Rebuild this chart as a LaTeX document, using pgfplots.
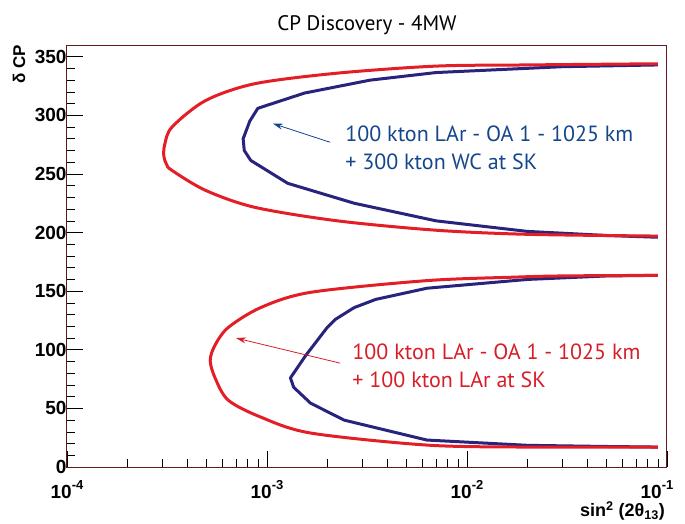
\documentclass[border=0pt]{standalone}
\usepackage{fontspec}
\setmainfont{Liberation Sans}
\newfontfamily\myriad{PT Sans}
\usepackage{pgfplots}
\pgfplotsset{compat=1.18}
\usetikzlibrary{arrows.meta}
\definecolor{rootred}{RGB}{228,30,38}
\definecolor{rootblue}{RGB}{40,35,125}
\definecolor{txtblue}{RGB}{20,70,140}
\definecolor{txtred}{RGB}{215,30,40}
\definecolor{framecol}{RGB}{100,25,35}
\newcommand{\dec}[1]{10\raisebox{0.45em}{\fontsize{13}{13}\selectfont #1}}
\begin{document}
\begin{tikzpicture}
\begin{axis}[
    scale only axis,
    width=600pt, height=422pt,
    xmode=log, xmin=1e-4, xmax=1e-1,
    ymin=0, ymax=360,
    clip mode=individual,
    axis line style={draw=framecol, line width=1pt},
    tick pos=left, tick align=inside,
    ytick={0,50,...,350}, minor y tick num=4,
    xtick={1e-4,1e-3,1e-2,1e-1},
    xticklabels={\dec{-4},\dec{-3},\dec{-2},\hspace*{-20pt}\dec{-1}},
    /pgf/number format/assume math mode=true,
    yticklabel style={font=\bfseries\fontsize{19}{19}\selectfont, xshift=3pt},
    xticklabel style={font=\bfseries\fontsize{19}{19}\selectfont, yshift=-10pt},
    major tick length=16pt, minor tick length=8pt,
    tick style={black, line width=0.6pt},
]
% blue: 100 kton LAr + 300 kton WC
\addplot[rootblue, line width=3pt, line join=round] coordinates {
 (0.09,343) (0.03,341.5) (7e-3,336.5) (3.27e-3,330) (1.54e-3,319) (9.0e-4,306)
 (8.2e-4,295) (7.6e-4,280) (7.7e-4,270) (8.3e-4,261.5) (1.27e-3,242)
 (2.73e-3,225) (7e-3,210) (0.02,201) (0.05,197.5) (0.09,196)};
\addplot[rootblue, line width=3pt, line join=round] coordinates {
 (0.09,163.5) (0.05,163) (0.02,160) (6.3e-3,152.5) (3.5e-3,143) (2.73e-3,136) (2.2e-3,126) (2.0e-3,119)
 (1.56e-3,95) (1.31e-3,76) (1.36e-3,68) (1.65e-3,54.5) (2.43e-3,40)
 (6.3e-3,23) (0.02,18.5) (0.05,17.5) (0.09,17)};
% red: 100 kton LAr + 100 kton LAr
\addplot[rootred, line width=3pt, smooth, tension=0.5] coordinates {
 (0.09,344) (0.02,343) (7e-3,342) (2.25e-3,336) (8.7e-4,327) (4.93e-4,312.6)
 (3.35e-4,290) (3.08e-4,275) (3.05e-4,265) (3.15e-4,258) (3.35e-4,253)
 (4.93e-4,236) (8.7e-4,221.5) (2.25e-3,210) (7e-3,202) (0.02,198.5) (0.09,197)};
\addplot[rootred, line width=3pt, smooth, tension=0.5] coordinates {
 (0.09,163.5) (0.03,163) (0.0175,162) (6.3e-3,159) (1.65e-3,149) (9.3e-4,136)
 (6.4e-4,119) (5.5e-4,104) (5.2e-4,91) (5.5e-4,76) (6.4e-4,57) (9.3e-4,42.6)
 (1.65e-3,29) (6.3e-3,18.7) (0.02,17) (0.09,17)};
% annotations
\draw[-{Stealth[length=10pt,width=6pt]}, txtblue, line width=0.8pt]
  (axis cs:2.07e-3,277) -- (axis cs:1.07e-3,293);
\draw[-{Stealth[length=10pt,width=6pt]}, txtred, line width=0.8pt]
  (axis cs:2.32e-3,88.6) -- (axis cs:7.0e-4,110);
\node[anchor=west, align=left, text=txtblue, font=\myriad\fontsize{22}{28}\selectfont, inner sep=0pt]
  at (axis cs:2.46e-3,272) {100 kton LAr - OA 1 - 1025 km\\+ 300 kton WC at SK};
\node[anchor=west, align=left, text=txtred, font=\myriad\fontsize{22}{28}\selectfont, inner sep=0pt]
  at (axis cs:2.67e-3,86) {100 kton LAr - OA 1 - 1025 km\\+ 100 kton LAr at SK};
% titles
\node[font=\myriad\fontsize{21}{21}\selectfont] at ([yshift=20pt]rel axis cs:0.5,1) {CP Discovery - 4MW};
\node[rotate=90, anchor=east, font=\bfseries\fontsize{17}{17}\selectfont, inner sep=0pt]
  at ([xshift=-48pt, yshift=0pt]rel axis cs:0,1) {δ CP};
\node[anchor=north east, font=\bfseries\fontsize{18}{18}\selectfont, inner sep=0pt]
  at ([xshift=-2pt, yshift=-34pt]rel axis cs:1,0) {sin\textsuperscript{2} (2θ\textsubscript{13})};
\end{axis}
\path ([shift={(-67pt,-56pt)}]current axis.south west) rectangle ++(685pt,523pt);
\end{tikzpicture}
\end{document}
